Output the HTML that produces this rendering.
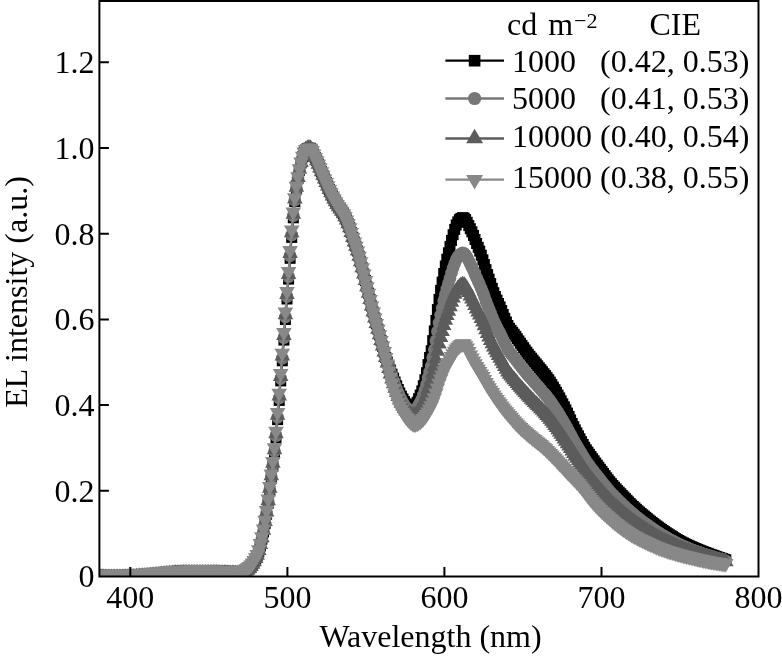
<!DOCTYPE html>
<html><head><meta charset="utf-8"><title>EL spectra</title>
<style>html,body{margin:0;padding:0;background:#fff}svg{display:block}text{font-family:"Liberation Serif","Times New Roman",serif;fill:#000}</style></head>
<body>
<svg width="782" height="657" viewBox="0 0 782 657">
<rect width="782" height="657" fill="#fff"/>
<defs>
<clipPath id="cp"><rect x="99.4" y="1.0" width="659.1" height="575.5"/></clipPath>
<marker id="mk" markerUnits="userSpaceOnUse" markerWidth="20" markerHeight="20" refX="0" refY="0" viewBox="-10 -10 20 20" overflow="visible" fill="#000000"><rect x="-5.5" y="-5.5" width="11" height="11"/></marker>
<marker id="mc" markerUnits="userSpaceOnUse" markerWidth="20" markerHeight="20" refX="0" refY="0" viewBox="-10 -10 20 20" overflow="visible" fill="#777777"><circle r="6.3"/></marker>
<marker id="mu" markerUnits="userSpaceOnUse" markerWidth="20" markerHeight="20" refX="0" refY="0" viewBox="-10 -10 20 20" overflow="visible" fill="#5c5c5c"><path d="M0,-9 L7.8,4.5 L-7.8,4.5 Z"/></marker>
<marker id="md" markerUnits="userSpaceOnUse" markerWidth="20" markerHeight="20" refX="0" refY="0" viewBox="-10 -10 20 20" overflow="visible" fill="#888888"><path d="M0,9 L7.8,-4.5 L-7.8,-4.5 Z"/></marker>
</defs>
<g clip-path="url(#cp)">
<polyline fill="none" stroke="#000000" stroke-width="2" marker-start="url(#mk)" marker-mid="url(#mk)" marker-end="url(#mk)" points="99.0,575.6 100.5,575.7 102.1,575.8 103.7,575.8 105.2,575.9 106.8,576.0 108.4,576.0 109.9,576.0 111.5,576.1 113.1,576.1 114.6,576.1 116.2,576.1 117.8,576.1 119.3,576.0 120.9,576.0 122.5,575.9 124.0,575.9 125.6,575.8 127.2,575.8 128.7,575.7 130.3,575.7 131.9,575.6 133.4,575.5 135.0,575.4 136.6,575.3 138.1,575.2 139.7,575.1 141.3,575.0 142.8,574.9 144.4,574.7 146.0,574.6 147.5,574.5 149.1,574.3 150.7,574.2 152.2,574.1 153.8,574.0 155.4,573.8 156.9,573.7 158.5,573.5 160.1,573.4 161.6,573.2 163.2,573.0 164.8,572.8 166.3,572.7 167.9,572.5 169.5,572.3 171.0,572.2 172.6,572.1 174.2,572.0 175.7,571.9 177.3,571.8 178.9,571.7 180.4,571.7 182.0,571.7 183.6,571.6 185.1,571.6 186.7,571.5 188.3,571.5 189.8,571.5 191.4,571.4 193.0,571.4 194.5,571.4 196.1,571.4 197.7,571.4 199.2,571.4 200.8,571.4 202.4,571.4 203.9,571.4 205.5,571.4 207.1,571.4 208.7,571.4 210.2,571.5 211.8,571.5 213.4,571.5 214.9,571.6 216.5,571.6 218.1,571.6 219.6,571.7 221.2,571.7 222.8,571.7 224.3,571.8 225.9,571.8 227.5,571.9 229.0,571.9 230.6,572.0 232.2,572.0 233.7,572.1 235.3,572.1 236.9,572.2 238.4,572.2 240.0,572.2 241.6,572.1 243.1,571.7 244.7,571.0 246.3,570.0 247.8,569.0 249.4,567.8 251.0,566.2 252.5,564.2 254.1,561.8 255.7,559.0 257.2,555.9 258.8,551.7 260.4,546.0 261.9,539.3 263.5,532.0 265.1,523.6 266.6,514.2 268.2,503.4 269.8,491.1 271.3,478.5 272.9,466.2 274.5,453.1 276.0,437.8 277.6,419.6 279.2,400.4 280.7,380.9 282.3,360.8 283.9,340.1 285.4,319.5 287.0,299.0 288.6,279.1 290.1,258.3 291.7,237.4 293.3,217.8 294.8,201.5 296.4,189.1 298.0,178.7 299.5,170.2 301.1,163.0 302.7,156.8 304.2,152.4 305.8,149.6 307.4,148.5 308.9,148.1 310.5,148.3 312.1,150.6 313.6,154.0 315.2,157.4 316.8,160.7 318.3,164.2 319.9,167.9 321.5,171.7 323.0,175.3 324.6,178.9 326.2,182.5 327.7,186.1 329.3,189.5 330.9,192.8 332.4,195.9 334.0,198.9 335.6,201.7 337.1,204.4 338.7,206.8 340.3,209.0 341.8,211.2 343.4,213.7 345.0,216.7 346.5,220.0 348.1,223.7 349.7,227.7 351.2,232.4 352.8,237.4 354.4,242.0 355.9,246.3 357.5,251.0 359.1,256.2 360.6,261.8 362.2,267.8 363.8,274.0 365.4,280.5 366.9,286.8 368.5,293.2 370.1,299.6 371.6,306.0 373.2,312.1 374.8,318.0 376.3,323.6 377.9,329.2 379.5,334.8 381.0,340.4 382.6,346.3 384.2,352.2 385.7,357.5 387.3,362.0 388.9,366.1 390.4,370.0 392.0,374.1 393.6,378.1 395.1,382.0 396.7,385.8 398.3,389.5 399.8,393.0 401.4,396.1 403.0,398.9 404.5,401.6 406.1,403.8 407.7,405.1 409.2,405.8 410.8,406.3 412.4,406.3 413.9,405.7 415.5,404.7 417.1,402.2 418.6,398.7 420.2,395.1 421.8,390.9 423.3,385.7 424.9,379.8 426.5,372.7 428.0,364.6 429.6,357.5 431.2,350.7 432.7,340.6 434.3,330.9 435.9,320.4 437.4,309.6 439.0,299.4 440.6,290.3 442.1,282.1 443.7,273.5 445.3,266.0 446.8,259.2 448.4,252.8 450.0,246.4 451.5,240.4 453.1,234.7 454.7,229.4 456.2,225.0 457.8,221.9 459.4,219.6 460.9,218.4 462.5,217.7 464.1,218.0 465.6,219.6 467.2,222.3 468.8,225.6 470.3,228.7 471.9,231.9 473.5,235.4 475.0,239.4 476.6,243.5 478.2,247.3 479.7,251.1 481.3,255.2 482.9,259.8 484.4,264.6 486.0,269.7 487.6,274.6 489.1,279.1 490.7,283.6 492.3,288.3 493.8,292.7 495.4,296.5 497.0,300.1 498.5,303.5 500.1,306.9 501.7,310.5 503.2,314.5 504.8,318.3 506.4,322.0 507.9,325.5 509.5,328.3 511.1,330.4 512.6,332.3 514.2,334.3 515.8,336.4 517.3,338.7 518.9,340.9 520.5,343.2 522.0,345.4 523.6,347.7 525.2,350.0 526.8,352.2 528.3,354.3 529.9,356.3 531.5,358.2 533.0,360.1 534.6,362.0 536.2,363.9 537.7,365.8 539.3,367.8 540.9,369.7 542.4,371.7 544.0,373.7 545.6,375.6 547.1,377.7 548.7,379.8 550.3,382.1 551.8,384.6 553.4,387.1 555.0,389.7 556.5,392.3 558.1,395.1 559.7,397.9 561.2,400.8 562.8,403.8 564.4,406.8 565.9,409.9 567.5,413.1 569.1,416.4 570.6,419.9 572.2,423.4 573.8,426.7 575.3,429.9 576.9,432.9 578.5,435.9 580.0,438.8 581.6,441.7 583.2,444.5 584.7,447.3 586.3,449.8 587.9,452.1 589.4,454.3 591.0,456.5 592.6,458.7 594.1,460.8 595.7,463.0 597.3,465.1 598.8,467.2 600.4,469.3 602.0,471.4 603.5,473.5 605.1,475.6 606.7,477.8 608.2,479.8 609.8,481.8 611.4,483.7 612.9,485.5 614.5,487.2 616.1,488.9 617.6,490.6 619.2,492.2 620.8,493.8 622.3,495.5 623.9,497.1 625.5,498.7 627.0,500.3 628.6,501.9 630.2,503.5 631.7,505.0 633.3,506.5 634.9,507.9 636.4,509.4 638.0,510.8 639.6,512.1 641.1,513.5 642.7,514.8 644.3,516.1 645.8,517.4 647.4,518.7 649.0,520.0 650.5,521.2 652.1,522.4 653.7,523.7 655.2,524.9 656.8,526.0 658.4,527.2 659.9,528.3 661.5,529.5 663.1,530.5 664.6,531.6 666.2,532.7 667.8,533.7 669.3,534.7 670.9,535.7 672.5,536.7 674.0,537.7 675.6,538.7 677.2,539.6 678.8,540.5 680.3,541.4 681.9,542.2 683.5,543.0 685.0,543.8 686.6,544.6 688.2,545.3 689.7,546.0 691.3,546.7 692.9,547.4 694.4,548.1 696.0,548.7 697.6,549.4 699.1,550.0 700.7,550.7 702.3,551.3 703.8,551.9 705.4,552.5 707.0,553.1 708.5,553.7 710.1,554.3 711.7,554.8 713.2,555.4 714.8,555.9 716.4,556.5 717.9,557.1 719.5,557.6 721.1,558.2 722.6,558.7 724.2,559.3 725.8,559.8"/>
<polyline fill="none" stroke="#777777" stroke-width="2" marker-start="url(#mc)" marker-mid="url(#mc)" marker-end="url(#mc)" points="99.0,575.6 100.5,575.7 102.1,575.8 103.7,575.9 105.2,575.9 106.8,576.0 108.4,576.0 109.9,576.0 111.5,576.1 113.1,576.1 114.6,576.1 116.2,576.1 117.8,576.0 119.3,576.0 120.9,576.0 122.5,575.9 124.0,575.9 125.6,575.8 127.2,575.8 128.7,575.7 130.3,575.6 131.9,575.6 133.4,575.5 135.0,575.4 136.6,575.3 138.1,575.2 139.7,575.1 141.3,575.0 142.8,574.9 144.4,574.7 146.0,574.6 147.5,574.5 149.1,574.3 150.7,574.2 152.2,574.1 153.8,573.9 155.4,573.8 156.9,573.7 158.5,573.5 160.1,573.3 161.6,573.2 163.2,573.0 164.8,572.8 166.3,572.6 167.9,572.5 169.5,572.3 171.0,572.2 172.6,572.0 174.2,571.9 175.7,571.9 177.3,571.8 178.9,571.7 180.4,571.7 182.0,571.7 183.6,571.6 185.1,571.6 186.7,571.5 188.3,571.5 189.8,571.5 191.4,571.4 193.0,571.4 194.5,571.4 196.1,571.4 197.7,571.4 199.2,571.4 200.8,571.4 202.4,571.4 203.9,571.4 205.5,571.4 207.1,571.4 208.7,571.4 210.2,571.5 211.8,571.5 213.4,571.5 214.9,571.6 216.5,571.6 218.1,571.6 219.6,571.7 221.2,571.7 222.8,571.7 224.3,571.8 225.9,571.8 227.5,571.9 229.0,571.9 230.6,572.0 232.2,572.0 233.7,572.1 235.3,572.1 236.9,572.2 238.4,572.2 240.0,572.2 241.6,572.1 243.1,571.6 244.7,570.9 246.3,569.9 247.8,568.9 249.4,567.7 251.0,566.0 252.5,564.0 254.1,561.5 255.7,558.7 257.2,555.5 258.8,551.1 260.4,545.2 261.9,538.5 263.5,531.1 265.1,522.6 266.6,513.0 268.2,502.0 269.8,489.6 271.3,477.0 272.9,464.7 274.5,451.4 276.0,435.7 277.6,417.4 279.2,398.1 280.7,378.6 282.3,358.3 283.9,337.7 285.4,317.0 287.0,296.6 288.6,276.7 290.1,255.8 291.7,235.0 293.3,215.9 294.8,200.3 296.4,188.2 298.0,178.0 299.5,169.7 301.1,162.7 302.7,156.6 304.2,152.3 305.8,149.6 307.4,148.5 308.9,148.1 310.5,148.3 312.1,150.6 313.6,154.0 315.2,157.4 316.8,160.7 318.3,164.2 319.9,167.9 321.5,171.7 323.0,175.3 324.6,178.9 326.2,182.5 327.7,186.1 329.3,189.5 330.9,192.8 332.4,195.9 334.0,198.9 335.6,201.7 337.1,204.4 338.7,206.8 340.3,209.0 341.8,211.2 343.4,213.7 345.0,216.7 346.5,220.0 348.1,223.7 349.7,227.7 351.2,232.4 352.8,237.4 354.4,242.0 355.9,246.3 357.5,251.0 359.1,256.2 360.6,261.8 362.2,267.8 363.8,274.0 365.4,280.5 366.9,286.8 368.5,293.2 370.1,299.6 371.6,306.0 373.2,312.1 374.8,318.0 376.3,323.6 377.9,329.2 379.5,334.8 381.0,340.4 382.6,346.2 384.2,352.1 385.7,357.5 387.3,362.6 388.9,367.4 390.4,372.1 392.0,376.6 393.6,381.0 395.1,385.3 396.7,389.3 398.3,393.1 399.8,396.7 401.4,399.8 403.0,402.6 404.5,405.3 406.1,407.5 407.7,408.9 409.2,409.9 410.8,410.7 412.4,411.0 413.9,410.8 415.5,410.1 417.1,408.2 418.6,405.3 420.2,402.5 421.8,399.1 423.3,394.9 424.9,390.1 426.5,384.4 428.0,377.9 429.6,371.9 431.2,366.1 432.7,357.8 434.3,349.6 435.9,340.7 437.4,331.5 439.0,322.9 440.6,315.1 442.1,308.1 443.7,300.8 445.3,294.5 446.8,288.9 448.4,283.5 450.0,278.2 451.5,272.9 453.1,268.0 454.7,263.5 456.2,259.8 457.8,257.0 459.4,254.9 460.9,253.7 462.5,252.9 464.1,253.3 465.6,254.9 467.2,257.6 468.8,260.9 470.3,264.0 471.9,267.2 473.5,270.5 475.0,274.2 476.6,277.9 478.2,281.4 479.7,284.8 481.3,288.5 482.9,292.5 484.4,296.7 486.0,301.2 487.6,305.4 489.1,309.3 490.7,313.2 492.3,317.2 493.8,320.9 495.4,324.3 497.0,327.5 498.5,330.5 500.1,333.5 501.7,336.6 503.2,340.0 504.8,343.3 506.4,346.5 507.9,349.5 509.5,352.0 511.1,354.0 512.6,355.8 514.2,357.7 515.8,359.7 517.3,361.7 518.9,363.7 520.5,365.7 522.0,367.7 523.6,369.8 525.2,371.8 526.8,373.7 528.3,375.6 529.9,377.3 531.5,379.1 533.0,380.8 534.6,382.5 536.2,384.3 537.7,386.0 539.3,387.8 540.9,389.6 542.4,391.4 544.0,393.2 545.6,395.0 547.1,396.9 548.7,398.9 550.3,401.0 551.8,403.2 553.4,405.5 555.0,407.9 556.5,410.3 558.1,412.7 559.7,415.3 561.2,417.9 562.8,420.5 564.4,423.2 565.9,425.9 567.5,428.7 569.1,431.6 570.6,434.5 572.2,437.5 573.8,440.4 575.3,443.2 576.9,445.9 578.5,448.5 580.0,451.1 581.6,453.7 583.2,456.4 584.7,458.9 586.3,461.4 587.9,463.6 589.4,465.8 591.0,467.9 592.6,469.9 594.1,472.0 595.7,474.0 597.3,476.0 598.8,478.0 600.4,480.0 602.0,481.9 603.5,483.9 605.1,485.8 606.7,487.8 608.2,489.6 609.8,491.4 611.4,493.2 612.9,494.8 614.5,496.5 616.1,498.0 617.6,499.6 619.2,501.1 620.8,502.6 622.3,504.1 623.9,505.6 625.5,507.1 627.0,508.6 628.6,510.0 630.2,511.4 631.7,512.8 633.3,514.1 634.9,515.4 636.4,516.7 638.0,518.0 639.6,519.2 641.1,520.4 642.7,521.6 644.3,522.7 645.8,523.9 647.4,525.0 649.0,526.1 650.5,527.2 652.1,528.3 653.7,529.4 655.2,530.5 656.8,531.5 658.4,532.5 659.9,533.5 661.5,534.5 663.1,535.5 664.6,536.4 666.2,537.3 667.8,538.2 669.3,539.1 670.9,540.0 672.5,540.8 674.0,541.6 675.6,542.5 677.2,543.3 678.8,544.0 680.3,544.8 681.9,545.5 683.5,546.2 685.0,546.9 686.6,547.6 688.2,548.2 689.7,548.9 691.3,549.5 692.9,550.1 694.4,550.7 696.0,551.2 697.6,551.8 699.1,552.4 700.7,552.9 702.3,553.5 703.8,554.0 705.4,554.6 707.0,555.1 708.5,555.6 710.1,556.1 711.7,556.6 713.2,557.1 714.8,557.5 716.4,558.0 717.9,558.5 719.5,559.0 721.1,559.4 722.6,559.9 724.2,560.4 725.8,560.8"/>
<polyline fill="none" stroke="#5c5c5c" stroke-width="2" marker-start="url(#mu)" marker-mid="url(#mu)" marker-end="url(#mu)" points="99.0,577.1 100.5,577.2 102.1,577.3 103.7,577.4 105.2,577.4 106.8,577.5 108.4,577.5 109.9,577.5 111.5,577.6 113.1,577.6 114.6,577.6 116.2,577.6 117.8,577.5 119.3,577.5 120.9,577.5 122.5,577.4 124.0,577.4 125.6,577.3 127.2,577.3 128.7,577.2 130.3,577.1 131.9,577.1 133.4,577.0 135.0,576.9 136.6,576.8 138.1,576.7 139.7,576.6 141.3,576.5 142.8,576.3 144.4,576.2 146.0,576.1 147.5,576.0 149.1,575.8 150.7,575.7 152.2,575.6 153.8,575.4 155.4,575.3 156.9,575.1 158.5,575.0 160.1,574.8 161.6,574.6 163.2,574.5 164.8,574.3 166.3,574.1 167.9,574.0 169.5,573.8 171.0,573.7 172.6,573.5 174.2,573.4 175.7,573.3 177.3,573.3 178.9,573.2 180.4,573.2 182.0,573.1 183.6,573.1 185.1,573.1 186.7,573.0 188.3,573.0 189.8,573.0 191.4,572.9 193.0,572.9 194.5,572.9 196.1,572.9 197.7,572.9 199.2,572.9 200.8,572.9 202.4,572.9 203.9,572.9 205.5,572.9 207.1,572.9 208.7,572.9 210.2,573.0 211.8,573.0 213.4,573.0 214.9,573.1 216.5,573.1 218.1,573.1 219.6,573.2 221.2,573.2 222.8,573.3 224.3,573.3 225.9,573.3 227.5,573.4 229.0,573.4 230.6,573.5 232.2,573.5 233.7,573.6 235.3,573.6 236.9,573.7 238.4,573.7 240.0,573.7 241.6,573.5 243.1,573.1 244.7,572.1 246.3,571.0 247.8,569.9 249.4,568.4 251.0,566.6 252.5,564.3 254.1,561.7 255.7,558.6 257.2,555.3 258.8,550.5 260.4,544.5 261.9,537.7 263.5,530.2 265.1,521.6 266.6,511.9 268.2,500.7 269.8,488.2 271.3,475.7 272.9,463.3 274.5,449.8 276.0,433.8 277.6,415.2 279.2,396.0 280.7,376.4 282.3,356.0 283.9,335.4 285.4,314.7 287.0,294.4 288.6,274.5 290.1,253.5 291.7,232.8 293.3,214.2 294.8,199.1 296.4,187.3 298.0,177.4 299.5,169.3 301.1,162.4 302.7,156.5 304.2,152.3 305.8,149.6 307.4,148.5 308.9,148.1 310.5,148.3 312.1,150.6 313.6,154.0 315.2,157.4 316.8,160.7 318.3,164.2 319.9,167.9 321.5,171.7 323.0,175.3 324.6,178.9 326.2,182.5 327.7,186.1 329.3,189.5 330.9,192.8 332.4,195.9 334.0,198.9 335.6,201.7 337.1,204.4 338.7,206.8 340.3,209.0 341.8,211.2 343.4,213.7 345.0,216.7 346.5,220.0 348.1,223.7 349.7,227.7 351.2,232.4 352.8,237.4 354.4,242.0 355.9,246.3 357.5,251.0 359.1,256.2 360.6,261.8 362.2,267.8 363.8,274.0 365.4,280.5 366.9,286.8 368.5,293.2 370.1,299.6 371.6,306.0 373.2,312.1 374.8,318.0 376.3,323.6 377.9,329.2 379.5,334.8 381.0,340.4 382.6,346.1 384.2,351.9 385.7,357.5 387.3,363.1 388.9,368.6 390.4,373.9 392.0,378.9 393.6,383.7 395.1,388.2 396.7,392.4 398.3,396.4 399.8,400.0 401.4,403.2 403.0,406.0 404.5,408.6 406.1,410.8 407.7,412.4 409.2,413.6 410.8,414.6 412.4,415.3 413.9,415.4 415.5,415.0 417.1,413.5 418.6,411.3 420.2,409.1 421.8,406.4 423.3,403.2 424.9,399.4 426.5,395.0 428.0,389.8 429.6,384.9 431.2,379.9 432.7,373.2 434.3,366.5 435.9,359.0 437.4,351.3 439.0,344.0 440.6,337.4 442.1,331.5 443.7,325.4 445.3,320.2 446.8,315.5 448.4,311.2 450.0,306.7 451.5,302.2 453.1,298.0 454.7,294.2 456.2,291.0 457.8,288.6 459.4,286.7 460.9,285.5 462.5,284.7 464.1,285.1 465.6,286.7 467.2,289.2 468.8,292.6 470.3,295.9 471.9,299.0 473.5,302.1 475.0,305.5 476.6,308.9 478.2,312.0 479.7,315.1 481.3,318.4 482.9,321.9 484.4,325.7 486.0,329.7 487.6,333.5 489.1,336.9 490.7,340.4 492.3,343.8 493.8,347.0 495.4,349.9 497.0,352.8 498.5,355.5 500.1,358.2 501.7,360.9 503.2,363.8 504.8,366.6 506.4,369.3 507.9,371.9 509.5,374.2 511.1,376.1 512.6,377.9 514.2,379.7 515.8,381.6 517.3,383.5 518.9,385.4 520.5,387.2 522.0,389.0 523.6,390.8 525.2,392.6 526.8,394.3 528.3,396.0 529.9,397.6 531.5,399.2 533.0,400.8 534.6,402.4 536.2,403.9 537.7,405.5 539.3,407.1 540.9,408.7 542.4,410.3 544.0,412.0 545.6,413.7 547.1,415.5 548.7,417.3 550.3,419.2 551.8,421.2 553.4,423.3 555.0,425.4 556.5,427.5 558.1,429.7 559.7,432.0 561.2,434.3 562.8,436.6 564.4,438.9 565.9,441.3 567.5,443.7 569.1,446.1 570.6,448.6 572.2,451.1 573.8,453.6 575.3,455.9 576.9,458.3 578.5,460.6 580.0,462.9 581.6,465.3 583.2,467.8 584.7,470.2 586.3,472.5 587.9,474.7 589.4,476.8 591.0,478.8 592.6,480.8 594.1,482.8 595.7,484.7 597.3,486.6 598.8,488.4 600.4,490.3 602.0,492.1 603.5,493.9 605.1,495.6 606.7,497.4 608.2,499.1 609.8,500.7 611.4,502.3 612.9,503.9 614.5,505.4 616.1,506.9 617.6,508.3 619.2,509.7 620.8,511.1 622.3,512.5 623.9,513.9 625.5,515.2 627.0,516.5 628.6,517.8 630.2,519.1 631.7,520.3 633.3,521.5 634.9,522.7 636.4,523.8 638.0,524.9 639.6,526.0 641.1,527.0 642.7,528.0 644.3,529.1 645.8,530.1 647.4,531.1 649.0,532.0 650.5,533.0 652.1,534.0 653.7,534.9 655.2,535.9 656.8,536.8 658.4,537.7 659.9,538.5 661.5,539.4 663.1,540.2 664.6,541.0 666.2,541.8 667.8,542.5 669.3,543.3 670.9,544.0 672.5,544.7 674.0,545.4 675.6,546.1 677.2,546.8 678.8,547.5 680.3,548.1 681.9,548.7 683.5,549.3 685.0,549.9 686.6,550.5 688.2,551.0 689.7,551.6 691.3,552.1 692.9,552.6 694.4,553.1 696.0,553.6 697.6,554.1 699.1,554.6 700.7,555.1 702.3,555.6 703.8,556.1 705.4,556.5 707.0,557.0 708.5,557.4 710.1,557.8 711.7,558.3 713.2,558.7 714.8,559.1 716.4,559.5 717.9,559.9 719.5,560.3 721.1,560.7 722.6,561.1 724.2,561.4 725.8,561.8"/>
<polyline fill="none" stroke="#888888" stroke-width="2" marker-start="url(#md)" marker-mid="url(#md)" marker-end="url(#md)" points="99.0,574.4 100.5,574.5 102.1,574.5 103.7,574.6 105.2,574.6 106.8,574.7 108.4,574.7 109.9,574.8 111.5,574.8 113.1,574.8 114.6,574.8 116.2,574.8 117.8,574.8 119.3,574.7 120.9,574.7 122.5,574.6 124.0,574.6 125.6,574.5 127.2,574.5 128.7,574.4 130.3,574.3 131.9,574.3 133.4,574.2 135.0,574.1 136.6,574.0 138.1,573.9 139.7,573.8 141.3,573.7 142.8,573.5 144.4,573.4 146.0,573.3 147.5,573.1 149.1,573.0 150.7,572.9 152.2,572.8 153.8,572.6 155.4,572.5 156.9,572.3 158.5,572.2 160.1,572.0 161.6,571.8 163.2,571.7 164.8,571.5 166.3,571.3 167.9,571.1 169.5,571.0 171.0,570.9 172.6,570.7 174.2,570.6 175.7,570.5 177.3,570.5 178.9,570.4 180.4,570.4 182.0,570.4 183.6,570.3 185.1,570.3 186.7,570.2 188.3,570.2 189.8,570.2 191.4,570.2 193.0,570.1 194.5,570.1 196.1,570.1 197.7,570.1 199.2,570.1 200.8,570.1 202.4,570.1 203.9,570.1 205.5,570.1 207.1,570.1 208.7,570.1 210.2,570.2 211.8,570.2 213.4,570.2 214.9,570.3 216.5,570.3 218.1,570.4 219.6,570.4 221.2,570.4 222.8,570.5 224.3,570.5 225.9,570.5 227.5,570.6 229.0,570.7 230.6,570.7 232.2,570.8 233.7,570.8 235.3,570.9 236.9,570.9 238.4,570.9 240.0,570.9 241.6,570.7 243.1,570.2 244.7,569.5 246.3,568.7 247.8,567.8 249.4,566.6 251.0,564.9 252.5,562.9 254.1,560.5 255.7,557.7 257.2,554.5 258.8,549.8 260.4,543.6 261.9,536.8 263.5,529.1 265.1,520.3 266.6,510.5 268.2,499.0 269.8,486.4 271.3,474.0 272.9,461.5 274.5,447.8 276.0,431.3 277.6,412.5 279.2,393.3 280.7,373.6 282.3,353.2 283.9,332.5 285.4,311.9 287.0,291.6 288.6,271.6 290.1,250.5 291.7,230.0 293.3,212.0 294.8,197.7 296.4,186.3 298.0,176.7 299.5,168.8 301.1,162.0 302.7,156.2 304.2,152.2 305.8,149.5 307.4,148.5 308.9,148.1 310.5,148.3 312.1,150.6 313.6,154.0 315.2,157.4 316.8,160.7 318.3,164.2 319.9,167.9 321.5,171.7 323.0,175.3 324.6,178.9 326.2,182.5 327.7,186.1 329.3,189.5 330.9,192.8 332.4,195.9 334.0,198.9 335.6,201.7 337.1,204.4 338.7,206.8 340.3,209.0 341.8,211.2 343.4,213.7 345.0,216.7 346.5,220.0 348.1,223.7 349.7,227.7 351.2,232.4 352.8,237.4 354.4,242.0 355.9,246.3 357.5,251.0 359.1,256.2 360.6,261.8 362.2,267.8 363.8,274.0 365.4,280.5 366.9,286.8 368.5,293.2 370.1,299.6 371.6,306.0 373.2,312.1 374.8,318.0 376.3,323.6 377.9,329.2 379.5,334.8 381.0,340.4 382.6,346.0 384.2,351.6 385.7,357.5 387.3,364.0 388.9,370.9 390.4,377.3 392.0,383.1 393.6,388.6 395.1,393.7 396.7,398.2 398.3,402.4 399.8,406.2 401.4,409.4 403.0,412.2 404.5,414.8 406.1,417.0 407.7,418.8 409.2,420.4 410.8,421.9 412.4,423.2 413.9,423.9 415.5,424.0 417.1,423.4 418.6,422.5 420.2,421.4 421.8,420.1 423.3,418.5 424.9,416.7 426.5,414.5 428.0,411.9 429.6,409.0 431.2,405.7 432.7,401.9 434.3,397.8 435.9,392.9 437.4,388.0 439.0,383.3 440.6,378.9 442.1,374.9 443.7,371.1 445.3,367.8 446.8,365.1 448.4,362.6 450.0,359.8 451.5,356.6 453.1,353.7 454.7,351.2 456.2,349.1 457.8,347.2 459.4,345.7 460.9,344.5 462.5,343.7 464.1,344.1 465.6,345.8 467.2,348.1 468.8,351.5 470.3,354.9 471.9,357.9 473.5,360.9 475.0,363.7 476.6,366.4 478.2,369.0 479.7,371.4 481.3,373.9 482.9,376.6 484.4,379.5 486.0,382.5 487.6,385.3 489.1,387.8 490.7,390.3 492.3,392.6 493.8,394.9 495.4,397.2 497.0,399.5 498.5,401.7 500.1,403.8 501.7,405.9 503.2,407.9 504.8,409.9 506.4,411.8 507.9,413.7 509.5,415.5 511.1,417.3 512.6,419.2 514.2,420.9 515.8,422.7 517.3,424.3 518.9,425.9 520.5,427.4 522.0,428.9 523.6,430.3 525.2,431.7 526.8,433.1 528.3,434.5 529.9,435.8 531.5,437.1 533.0,438.4 534.6,439.6 536.2,440.9 537.7,442.1 539.3,443.3 540.9,444.6 542.4,446.0 544.0,447.4 545.6,448.8 547.1,450.4 548.7,451.9 550.3,453.5 551.8,455.1 553.4,456.7 555.0,458.3 556.5,460.0 558.1,461.7 559.7,463.4 561.2,465.1 562.8,466.8 564.4,468.5 565.9,470.2 567.5,471.9 569.1,473.5 570.6,475.1 572.2,476.7 573.8,478.4 575.3,480.0 576.9,481.7 578.5,483.4 580.0,485.2 581.6,487.2 583.2,489.2 584.7,491.3 586.3,493.5 587.9,495.6 589.4,497.6 591.0,499.4 592.6,501.3 594.1,503.0 595.7,504.7 597.3,506.4 598.8,508.0 600.4,509.6 602.0,511.2 603.5,512.6 605.1,514.1 606.7,515.5 608.2,516.8 609.8,518.2 611.4,519.5 612.9,520.9 614.5,522.2 616.1,523.4 617.6,524.7 619.2,525.9 620.8,527.1 622.3,528.2 623.9,529.3 625.5,530.4 627.0,531.5 628.6,532.5 630.2,533.5 631.7,534.4 633.3,535.4 634.9,536.2 636.4,537.1 638.0,537.9 639.6,538.7 641.1,539.5 642.7,540.2 644.3,541.0 645.8,541.7 647.4,542.4 649.0,543.2 650.5,543.9 652.1,544.6 653.7,545.3 655.2,546.0 656.8,546.7 658.4,547.3 659.9,547.9 661.5,548.5 663.1,549.1 664.6,549.6 666.2,550.2 667.8,550.7 669.3,551.2 670.9,551.7 672.5,552.1 674.0,552.6 675.6,553.0 677.2,553.5 678.8,553.9 680.3,554.3 681.9,554.8 683.5,555.2 685.0,555.6 686.6,556.0 688.2,556.3 689.7,556.7 691.3,557.1 692.9,557.5 694.4,557.8 696.0,558.2 697.6,558.5 699.1,558.9 700.7,559.2 702.3,559.6 703.8,559.9 705.4,560.2 707.0,560.6 708.5,560.9 710.1,561.2 711.7,561.4 713.2,561.7 714.8,562.0 716.4,562.2 717.9,562.5 719.5,562.7 721.1,563.0 722.6,563.2 724.2,563.4 725.8,563.6"/>
</g>
<rect x="99.4" y="1.0" width="659.1" height="575.5" fill="none" stroke="#000" stroke-width="2"/>
<path d="M130.3,576.5 v-9.5 M287.4,576.5 v-9.5 M444.4,576.5 v-9.5 M601.5,576.5 v-9.5 M99.4,490.8 h9.5 M99.4,405.1 h9.5 M99.4,319.4 h9.5 M99.4,233.7 h9.5 M99.4,148.0 h9.5 M99.4,62.3 h9.5" stroke="#000" stroke-width="2" fill="none"/>
<g font-size="32" text-anchor="middle">
<text x="130.3" y="608">400</text>
<text x="287.4" y="608">500</text>
<text x="444.4" y="608">600</text>
<text x="601.5" y="608">700</text>
<text x="758.5" y="608">800</text>
<text x="430.5" y="646.5">Wavelength (nm)</text>
<text transform="translate(26.5,292) rotate(-90)">EL intensity (a.u.)</text>
</g>
<g font-size="32" text-anchor="end">
<text x="94.5" y="587.3">0</text>
<text x="94.5" y="501.6">0.2</text>
<text x="94.5" y="415.9">0.4</text>
<text x="94.5" y="330.2">0.6</text>
<text x="94.5" y="244.5">0.8</text>
<text x="94.5" y="158.8">1.0</text>
<text x="94.5" y="73.1">1.2</text>
</g>
<g font-size="32">
<text x="507" y="34.5" word-spacing="3">cd m<tspan font-size="22" dy="-6.5" dx="1">−2</tspan></text>
<text x="649.5" y="34.5">CIE</text>
<path d="M445.4,60.7 H504" stroke="#000000" stroke-width="2.3"/>
<g transform="translate(474.6,60.7)" fill="#000000"><rect x="-5.8" y="-5.8" width="11.6" height="11.6"/></g>
<text x="512" y="71.5">1000</text>
<text x="600" y="71.5">(0.42, 0.53)</text>
<path d="M445.4,98.5 H504" stroke="#777777" stroke-width="2.3"/>
<g transform="translate(474.6,98.5)" fill="#777777"><circle r="6.6"/></g>
<text x="512" y="109">5000</text>
<text x="600" y="109">(0.41, 0.53)</text>
<path d="M445.4,138.5 H504" stroke="#5c5c5c" stroke-width="2.3"/>
<g transform="translate(474.6,138.5)" fill="#5c5c5c"><path d="M0,-9.7 L8.5,4.8 L-8.5,4.8 Z"/></g>
<text x="512" y="147">10000</text>
<text x="600" y="147">(0.40, 0.54)</text>
<path d="M445.4,179.7 H504" stroke="#888888" stroke-width="2.3"/>
<g transform="translate(474.6,179.7)" fill="#888888"><path d="M0,9.7 L8.5,-4.8 L-8.5,-4.8 Z"/></g>
<text x="512" y="188.3">15000</text>
<text x="600" y="188.3">(0.38, 0.55)</text>
</g>
</svg>
</body></html>
